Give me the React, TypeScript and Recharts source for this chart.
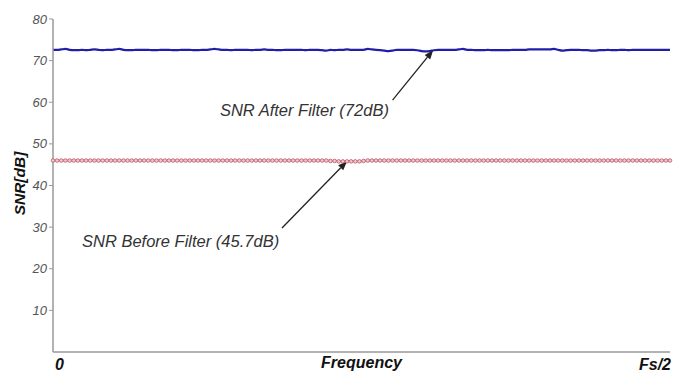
import React from 'react';
import { LineChart, Line, XAxis, YAxis, ReferenceLine, ReferenceDot } from 'recharts';

// SNR after filter (dB), sampled from 0 to Fs/2
const snrAfter = [
  72.6,72.6,72.7,72.8,72.6,72.5,72.5,72.6,72.5,72.6,
  72.7,72.6,72.5,72.6,72.6,72.7,72.8,72.6,72.5,72.5,
  72.6,72.6,72.6,72.6,72.5,72.5,72.6,72.6,72.6,72.5,
  72.5,72.6,72.6,72.6,72.5,72.5,72.6,72.6,72.7,72.8,
  72.7,72.6,72.6,72.5,72.6,72.6,72.6,72.6,72.5,72.6,
  72.6,72.7,72.6,72.6,72.5,72.5,72.6,72.6,72.6,72.6,
  72.6,72.5,72.6,72.6,72.6,72.5,72.4,72.6,72.5,72.6,
  72.6,72.7,72.6,72.6,72.6,72.6,72.8,72.7,72.6,72.5,
  72.4,72.3,72.4,72.6,72.6,72.6,72.6,72.6,72.5,72.3,
  72.2,72.3,72.5,72.6,72.6,72.6,72.6,72.6,72.7,72.8,
  72.6,72.6,72.5,72.5,72.5,72.6,72.5,72.5,72.5,72.5,
  72.5,72.6,72.6,72.6,72.6,72.7,72.7,72.7,72.7,72.7,
  72.7,72.8,72.6,72.4,72.5,72.6,72.6,72.6,72.5,72.5,
  72.4,72.4,72.5,72.5,72.6,72.5,72.5,72.6,72.6,72.5,
  72.6,72.6,72.6,72.6,72.6,72.6,72.6,72.6,72.6,72.6,
];

// SNR before filter (dB)
const snrBefore = [
  46.0,46.0,46.0,46.0,46.0,46.0,46.0,46.0,46.0,46.0,
  46.0,46.0,46.0,46.0,46.0,46.0,46.0,46.0,46.0,46.0,
  46.0,46.0,46.0,46.0,46.0,46.0,46.0,46.0,46.0,46.0,
  46.0,46.0,46.0,46.0,46.0,46.0,46.0,46.0,46.0,46.0,
  46.0,46.0,46.0,46.0,46.0,46.0,46.0,46.0,46.0,46.0,
  46.0,46.0,46.0,46.0,46.0,46.0,46.0,46.0,46.0,46.0,
  46.0,46.0,46.0,46.0,46.0,46.0,46.0,45.9,45.9,45.8,
  45.8,45.8,45.8,45.8,45.8,45.9,46.0,46.0,46.0,46.0,
  46.0,46.0,46.0,46.0,46.0,46.0,46.0,46.0,46.0,46.0,
  46.0,46.0,46.0,46.0,46.0,46.0,46.0,46.0,46.0,46.0,
  46.0,46.0,46.0,46.0,46.0,46.0,46.0,46.0,46.0,46.0,
  46.0,46.0,46.0,46.0,46.0,46.0,46.0,46.0,46.0,46.0,
  46.0,46.0,46.0,46.0,46.0,46.0,46.0,46.0,46.0,46.0,
  46.0,46.0,46.0,46.0,46.0,46.0,46.0,46.0,46.0,46.0,
  46.0,46.0,46.0,46.0,46.0,46.0,46.0,46.0,46.0,46.0,
];

const yTicks = [10, 20, 30, 40, 50, 60, 70, 80];
const xTickLabels = ['0', 'Fs/2'];

// Annotation text positions (sample index, dB)
const labelAfter = { x: 40.3, y: 56.6, text: 'SNR After Filter (72dB)' };
const labelBefore = { x: 7.0, y: 25.2, text: 'SNR Before Filter (45.7dB)' };
// Arrows: [from, to] in (sample index, dB)
const arrowAfter = [{ x: 82, y: 60.5 }, { x: 91.8, y: 72.5 }];
const arrowBefore = [{ x: 55.3, y: 29.8 }, { x: 71, y: 45.8 }];

const data = snrAfter.map((v, i) => ({ i, after: v, before: snrBefore[i] }));
const lastIdx = snrAfter.length - 1;

const FONT = 'Liberation Sans, Arial, sans-serif';

const ArrowShape = (props: any) => {
  const { x1, y1, x2, y2 } = props;
  if ([x1, y1, x2, y2].some((v) => v === undefined || isNaN(v))) return null;
  const ang = Math.atan2(y2 - y1, x2 - x1);
  const len = 9;
  const w = 3.5;
  const bx = x2 - len * Math.cos(ang);
  const by = y2 - len * Math.sin(ang);
  const px = -Math.sin(ang) * w;
  const py = Math.cos(ang) * w;
  return (
    <g>
      <line x1={x1} y1={y1} x2={bx} y2={by} stroke="#222" strokeWidth={1.3} />
      <polygon points={`${x2},${y2} ${bx + px},${by + py} ${bx - px},${by - py}`} fill="#222" />
    </g>
  );
};

const textShape = (text: string) => (props: any) => (
  <text
    x={props.cx}
    y={props.cy}
    fontFamily={FONT}
    fontStyle="italic"
    fontSize={16.5}
    fill="#333"
    textAnchor="start"
  >
    {text}
  </text>
);

const XTick = (props: any) => {
  const { x, y, payload } = props;
  const isLast = payload.value === lastIdx;
  return (
    <text
      x={isLast ? x - 22 : x + 2}
      y={y - 1}
      dy="0.71em"
      textAnchor="start"
      fontFamily={FONT}
      fontStyle="italic"
      fontWeight="bold"
      fontSize={16}
      fill="#111"
    >
      {isLast ? xTickLabels[1] : xTickLabels[0]}
    </text>
  );
};

export default function App() {
  return (
    <div style={{ position: 'absolute', left: 0, top: 0, background: '#fff' }}>
      <LineChart
        width={673}
        height={375}
        data={data}
        margin={{ top: 19, right: 3, bottom: 0, left: 0 }}
      >
        <XAxis
          dataKey="i"
          type="number"
          domain={[0, lastIdx]}
          ticks={[0, lastIdx]}
          tickLine={false}
          axisLine={{ stroke: '#999', strokeWidth: 1.5 }}
          height={23}
          tick={<XTick />}
          label={{
            content: (p: any) => {
              const vb = p.viewBox;
              return (
                <text
                  x={vb.x + vb.width / 2}
                  y={vb.y + 5}
                  dy="0.71em"
                  textAnchor="middle"
                  fontFamily={FONT}
                  fontStyle="italic"
                  fontWeight="bold"
                  fontSize={16}
                  fill="#111"
                >
                  Frequency
                </text>
              );
            },
          }}
        />
        <YAxis
          type="number"
          domain={[0, 80]}
          ticks={yTicks}
          width={53}
          tickSize={4}
          tickLine={{ stroke: '#999' }}
          axisLine={{ stroke: '#999', strokeWidth: 1.5 }}
          tick={{
            fontFamily: FONT,
            fontStyle: 'italic',
            fontSize: 13,
            fill: '#555',
          }}
          label={{
            content: (p: any) => {
              const vb = p.viewBox;
              const cx = 19;
              const cy = vb.y + vb.height / 2 - 2;
              return (
                <text
                  x={cx}
                  y={cy}
                  transform={`rotate(-90, ${cx}, ${cy})`}
                  textAnchor="middle"
                  dominantBaseline="central"
                  fontFamily={FONT}
                  fontStyle="italic"
                  fontWeight="bold"
                  fontSize={15.5}
                  fill="#111"
                >
                  SNR[dB]
                </text>
              );
            },
          }}
        />
        <Line
          dataKey="before"
          stroke="#e8a8b0"
          strokeWidth={2.5}
          dot={{ r: 1.8, stroke: '#b85a6a', strokeWidth: 0.8, fill: '#f3c8ce' }}
          isAnimationActive={false}
        />
        <Line
          dataKey="after"
          stroke="#1f1fa8"
          strokeWidth={2.2}
          dot={false}
          type="monotone"
          isAnimationActive={false}
        />
        <ReferenceLine segment={arrowAfter} shape={<ArrowShape />} ifOverflow="visible" />
        <ReferenceLine segment={arrowBefore} shape={<ArrowShape />} ifOverflow="visible" />
        <ReferenceDot x={labelAfter.x} y={labelAfter.y} r={0} shape={textShape(labelAfter.text)} ifOverflow="visible" />
        <ReferenceDot x={labelBefore.x} y={labelBefore.y} r={0} shape={textShape(labelBefore.text)} ifOverflow="visible" />
      </LineChart>
    </div>
  );
}
